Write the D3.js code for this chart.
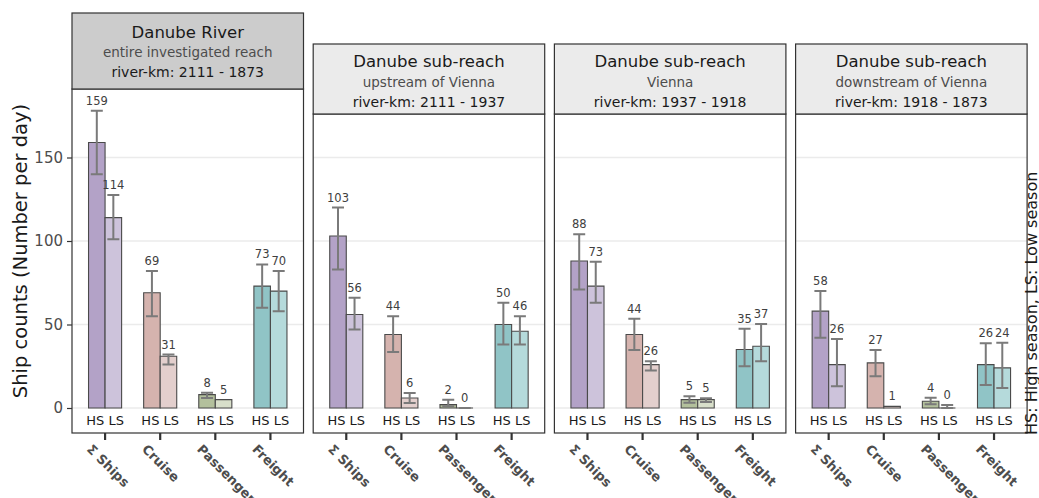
<!DOCTYPE html>
<html>
<head>
<meta charset="utf-8">
<script src="https://cdn.jsdelivr.net/npm/d3@7"></script>
<style>
  body { margin: 0; background: #fff; }
  svg { display: block; font-family: "DejaVu Sans", Verdana, sans-serif; }
</style>
</head>
<body>
<svg id="chart" width="1039" height="498"></svg>
<script>
// categories and seasons
const categories = ["Σ Ships", "Cruise", "Passenger", "Freight"];
const seasons = ["HS", "LS"];
const yTicks = [0, 50, 100, 150];

// strip texts, one entry per panel
const panelTitles = ["Danube River", "Danube sub-reach", "Danube sub-reach", "Danube sub-reach"];
const panelSubtitles = ["entire investigated reach", "upstream of Vienna", "Vienna", "downstream of Vienna"];
const panelKm = ["river-km: 2111 - 1873", "river-km: 2111 - 1937", "river-km: 1937 - 1918", "river-km: 1918 - 1873"];

// mean ship counts per panel (rows) and category (columns)
const countsHS = [[159, 69, 8, 73], [103, 44, 2, 50], [88, 44, 5, 35], [58, 27, 4, 26]];
const countsLS = [[114, 31, 5, 70], [56, 6, 0, 46], [73, 26, 5, 37], [26, 1, 0, 24]];

// error bar ends (null = no error bar drawn)
const errLowHS  = [[140, 55, 6, 60], [83, 33.5, 1, 38], [71, 34.7, 3.2, 25], [42, 19, 2.2, 13.8]];
const errHighHS = [[178, 82, 9.2, 86], [120, 55, 5, 63], [104, 53.5, 7, 47.5], [70, 34.7, 6.2, 38.7]];
const errLowLS  = [[101, 26, null, 58], [47, 3, 0, 38], [63, 22.4, 3.6, 28], [13, null, 0, 12]];
const errHighLS = [[127.5, 32, null, 82], [66, 9, 0, 55], [87.6, 28, 5.8, 50.3], [41.3, null, 1.8, 39]];

const barColors = {
  HS: ["#b3a2c7", "#d5b3ae", "#b3c09c", "#90c4c6"],
  LS: ["#cdc3db", "#e3cfcd", "#d8dfca", "#b5dadb"]
};

const svg = d3.select("#chart");

const panelLeft = 72, panelGap = 241.2, panelWidth = 231.5;
const panelBottom = 433;
const stripTops = [13, 44, 44, 44];
const stripBottoms = [89, 114, 114, 114];

const y = d3.scaleLinear().domain([0, 150]).range([408, 157.5]);

for (let p = 0; p < 4; p++) {
  const left = panelLeft + p * panelGap;
  const right = left + panelWidth;
  const top = stripBottoms[p];

  const x = d3.scaleBand().domain(categories).range([left, right])
    .paddingInner(0.4).paddingOuter(0.3);
  const xs = d3.scaleBand().domain(seasons).range([0, x.bandwidth()]);

  const g = svg.append("g");

  // gridlines
  g.selectAll(".grid").data(yTicks).join("line")
    .attr("x1", left).attr("x2", right)
    .attr("y1", d => y(d)).attr("y2", d => y(d))
    .attr("stroke", "#ebebeb").attr("stroke-width", 1.6);

  // flatten data for this panel
  const rows = [];
  categories.forEach((c, i) => {
    rows.push({ cat: c, i, s: "HS", v: countsHS[p][i], lo: errLowHS[p][i], hi: errHighHS[p][i] });
    rows.push({ cat: c, i, s: "LS", v: countsLS[p][i], lo: errLowLS[p][i], hi: errHighLS[p][i] });
  });

  // bars (paths so zero values still show their outline)
  g.selectAll(".bar").data(rows).join("path")
    .attr("d", d => {
      const x0 = x(d.cat) + xs(d.s), w = xs.bandwidth();
      const y0 = y(0), y1 = y(d.v);
      return `M${x0},${y0}V${y1}H${x0 + w}V${y0}Z`;
    })
    .attr("fill", d => barColors[d.s][d.i])
    .attr("stroke", "#4a4a4a").attr("stroke-width", 1.1);

  // error bars
  const eb = rows.filter(d => d.lo !== null);
  const cx = d => x(d.cat) + xs(d.s) + xs.bandwidth() / 2;
  const capW = 6;
  g.selectAll(".err").data(eb).join("path")
    .attr("d", d => `M${cx(d) - capW},${y(d.hi)}H${cx(d) + capW}M${cx(d)},${y(d.hi)}V${y(d.lo)}M${cx(d) - capW},${y(d.lo)}H${cx(d) + capW}`)
    .attr("fill", "none").attr("stroke", "#7a7a7a").attr("stroke-width", 2);

  // value labels
  g.selectAll(".val").data(rows).join("text")
    .attr("x", d => cx(d))
    .attr("y", d => y(d.hi !== null ? d.hi : d.v) - 6)
    .attr("text-anchor", "middle")
    .attr("font-size", 11.5).attr("fill", "#404040")
    .text(d => d.v);

  // season labels under each bar pair
  g.selectAll(".season").data(categories).join("text")
    .attr("x", d => x(d) + x.bandwidth() / 2)
    .attr("y", 425)
    .attr("text-anchor", "middle")
    .attr("font-size", 13).attr("fill", "#1a1a1a")
    .text(seasons.join(" "));

  // panel border
  g.append("rect")
    .attr("x", left).attr("y", top)
    .attr("width", panelWidth).attr("height", panelBottom - top)
    .attr("fill", "none").attr("stroke", "#333").attr("stroke-width", 1.2);

  // strip
  const st = stripTops[p];
  g.append("rect")
    .attr("x", left).attr("y", st)
    .attr("width", panelWidth).attr("height", top - st)
    .attr("fill", p === 0 ? "#cccccc" : "#ebebeb")
    .attr("stroke", "#333").attr("stroke-width", 1.2);

  const mid = left + panelWidth / 2;
  const off = p === 0 ? 0 : 29;
  g.append("text").attr("x", mid).attr("y", 38 + off)
    .attr("text-anchor", "middle").attr("font-size", 16.5).attr("fill", "#1a1a1a")
    .text(panelTitles[p]);
  g.append("text").attr("x", mid).attr("y", 56.5 + off + (p === 0 ? 0 : 1))
    .attr("text-anchor", "middle").attr("font-size", 13.5).attr("fill", "#4d4d4d")
    .text(panelSubtitles[p]);
  g.append("text").attr("x", mid).attr("y", 76.5 + off + (p === 0 ? 0 : 1))
    .attr("text-anchor", "middle").attr("font-size", 14).attr("fill", "#1a1a1a")
    .text(panelKm[p]);

  // x axis ticks + rotated category labels
  const xAxis = g.append("g").attr("transform", `translate(0,${panelBottom})`)
    .call(d3.axisBottom(x).tickSize(7).tickSizeOuter(0).tickFormat(""));
  xAxis.select(".domain").remove();
  xAxis.selectAll(".tick line").attr("stroke", "#333").attr("stroke-width", 2.2);

  g.selectAll(".cat").data(categories).join("text")
    .attr("transform", d => `translate(${x(d) + x.bandwidth() / 2 - 19},450) rotate(45)`)
    .attr("font-size", 13).attr("font-weight", "bold").attr("fill", "#4d4d4d")
    .text(d => d);

  // y axis only on first panel
  if (p === 0) {
    const yAxis = g.append("g").attr("transform", `translate(${left},0)`)
      .call(d3.axisLeft(y).tickValues(yTicks).tickSize(5).tickPadding(4));
    yAxis.select(".domain").remove();
    yAxis.selectAll(".tick line").attr("stroke", "#333").attr("stroke-width", 1.2);
    yAxis.selectAll(".tick text")
      .attr("font-size", 15).attr("fill", "#4d4d4d")
      .attr("font-family", "DejaVu Sans, sans-serif");
  }
}

// axis title
svg.append("text")
  .attr("transform", "translate(27,251) rotate(-90)")
  .attr("text-anchor", "middle")
  .attr("font-size", 19.5).attr("fill", "#1a1a1a")
  .text("Ship counts (Number per day)");

// season legend on the right
svg.append("text")
  .attr("transform", "translate(1037,435) rotate(-90)")
  .attr("text-anchor", "start")
  .attr("font-size", 16).attr("fill", "#1a1a1a")
  .text("HS: High season, LS: Low season");
</script>
</body>
</html>
